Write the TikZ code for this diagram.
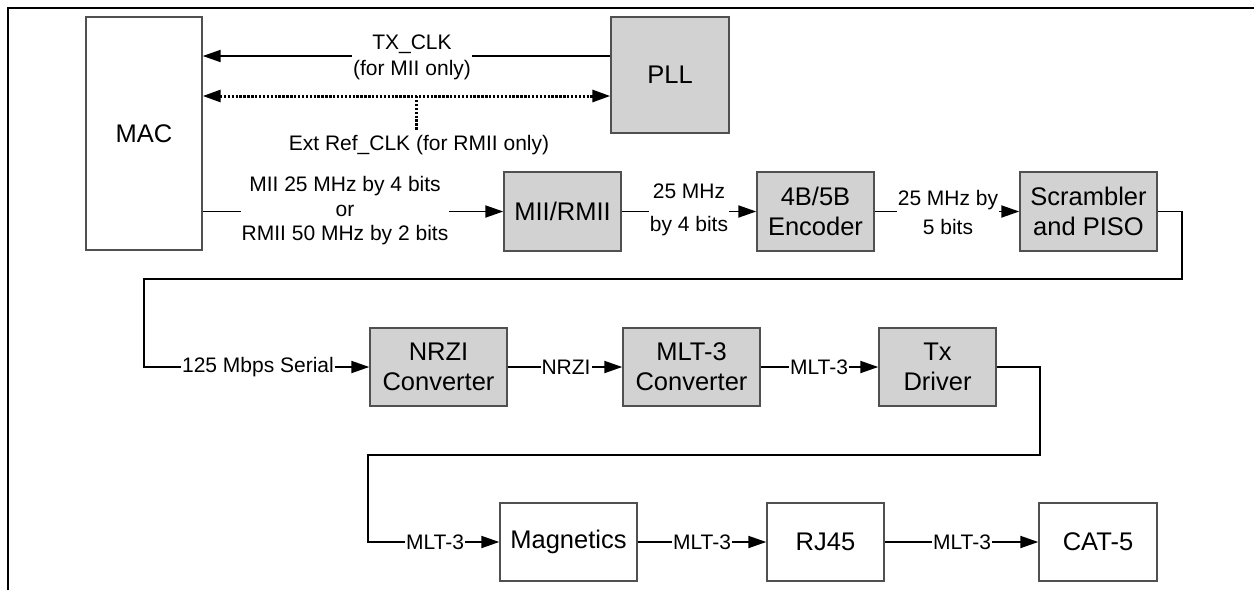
\documentclass[tikz,border=0pt]{standalone}
\usepackage{fontspec}
\setmainfont{Liberation Sans}
\usetikzlibrary{arrows.meta}
\definecolor{boxgray}{HTML}{D2D2D2}
\definecolor{edgegray}{HTML}{505050}
\begin{document}
\begin{tikzpicture}[x=1pt,y=-1pt,
  box/.style={draw=edgegray, line width=1.4pt, fill=white, inner sep=0pt, align=center,
    font=\fontsize{25.5}{30}\selectfont},
  gbox/.style={box, fill=boxgray},
  conn/.style={line width=1.9pt, draw=black},
  arr/.style={conn, -{Triangle[length=18pt,width=12pt]}},
  dotline/.style={line width=3pt, dash pattern=on 2.4pt off 1.5pt},
  lbl/.style={fill=white, inner sep=1pt, align=center, font=\fontsize{21}{25}\selectfont}
]
\useasboundingbox (0,0) rectangle (1254,590);
% frame
\draw[line width=2.6pt] (8,590) -- (8,8) -- (1256,8);

% boxes
\node[box, minimum width=116pt, minimum height=233pt] (mac) at (144,133.5) {MAC};
\node[gbox, minimum width=118pt, minimum height=116pt] (pll) at (670,75) {PLL};
\node[gbox, minimum width=117pt, minimum height=79pt] (mii) at (562.5,211.5) {MII/RMII};
\node[gbox, minimum width=117pt, minimum height=79pt] (enc) at (815.5,211.5) {4B/5B\\Encoder};
\node[gbox, minimum width=137pt, minimum height=79pt] (scr) at (1088.5,211.5) {Scrambler\\and PISO};
\node[gbox, minimum width=137pt, minimum height=78pt] (nrzi) at (438.5,367) {NRZI\\Converter};
\node[gbox, minimum width=137pt, minimum height=78pt] (mlt) at (691.5,367) {MLT-3\\Converter};
\node[gbox, minimum width=117pt, minimum height=78pt] (tx) at (937.5,367) {Tx\\Driver};
\node[box, minimum width=137pt, minimum height=78pt] (mag) at (568.5,542) {Magnetics};
\node[box, minimum width=117pt, minimum height=78pt] (rj) at (825.5,542) {RJ45};
\node[box, minimum width=118pt, minimum height=78pt] (cat) at (1098,542) {CAT-5};

% TX_CLK
\coordinate (txs) at ([yshift=19pt]pll.west);
\draw[arr] (txs) -- (txs -| mac.east);
\node[lbl, font=\fontsize{21}{26}\selectfont] (txl) at (412,57.5) {TX\_CLK\\(for MII only)};

% Ext Ref_CLK
\coordinate (rs) at ([yshift=-21pt]pll.west);
\node[lbl, inner sep=2pt] (extl) at (419,145) {Ext Ref\_CLK (for RMII only)};
\draw[dotline, {Triangle[length=18pt,width=12pt]}-{Triangle[length=18pt,width=12pt]}] (rs -| mac.east) -- (rs);
\coordinate (rj0) at (416,96);
\coordinate (rj1) at (416,130);
\draw[dotline] (rj0) -- (rj1);

% MAC -> MII/RMII
\draw[arr] (mac.east |- mii.west) -- (mii.west);
\node[lbl, font=\fontsize{21}{24.5}\selectfont] (l1) at (345,211) {MII 25 MHz by 4 bits\\or\\RMII 50 MHz by 2 bits};

% MII -> Encoder
\draw[arr] (mii.east) -- (enc.west);
\node[lbl, font=\fontsize{21}{33}\selectfont] (l2) at (689,210) {25 MHz\\by 4 bits};

% Encoder -> Scrambler
\draw[arr] (enc.east) -- (scr.west);
\node[lbl, font=\fontsize{21}{29}\selectfont] (l3) at (948,212) {25 MHz by\\5 bits};

% Scrambler -> NRZI
\coordinate (w1) at (1182,279);
\coordinate (w2) at (144,279);
\draw[arr] (scr.east) -| (w1) -- (w2) |- (nrzi.west);
\node[lbl] (l4) at (258,367) {125 Mbps Serial};

% NRZI -> MLT-3
\draw[arr] (nrzi.east) -- (mlt.west);
\node[lbl] (l5) at (566,367) {NRZI};

% MLT-3 -> Tx
\draw[arr] (mlt.east) -- (tx.west);
\node[lbl] (l6) at (819,367) {MLT-3};

% Tx -> Magnetics
\coordinate (w3) at (1040,455);
\coordinate (w4) at (368,455);
\draw[arr] (tx.east) -| (w3) -- (w4) |- (mag.west);
\node[lbl] (l7) at (435,542) {MLT-3};

% Magnetics -> RJ45
\draw[arr] (mag.east) -- (rj.west);
\node[lbl] (l8) at (702,542) {MLT-3};

% RJ45 -> CAT-5
\draw[arr] (rj.east) -- (cat.west);
\node[lbl] (l9) at (962,542) {MLT-3};
\end{tikzpicture}
\end{document}
